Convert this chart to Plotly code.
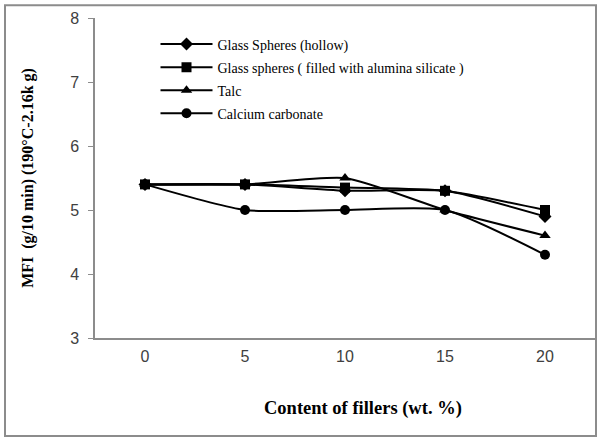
import plotly.graph_objects as go

content = [0, 5, 10, 15, 20]
hollow = [5.4, 5.4, 5.3, 5.3, 4.9]
filled = [5.4, 5.4, 5.35, 5.3, 5.0]
talc = [5.4, 5.4, 5.5, 5.0, 4.6]
caco3 = [5.4, 5.0, 5.0, 5.0, 4.3]

names = ["Glass Spheres (hollow)",
         "Glass spheres ( filled with alumina silicate )",
         "Talc",
         "Calcium carbonate"]
series = [hollow, filled, talc, caco3]
symbols = ["diamond", "square", "triangle-up", "circle"]
sizes = [10, 10, 10, 10]

fig = go.Figure()
for n, s, sym, sz in zip(names, series, symbols, sizes):
    fig.add_trace(go.Scatter(
        x=content, y=s, name="<span style='font-size:14px'>" + n + "</span>",
        mode="lines+markers",
        line=dict(color="black", width=2, shape="spline", smoothing=0.6),
        marker=dict(symbol=sym, size=sz, color="black"),
    ))

fig.update_layout(
    width=597, height=438,
    margin=dict(l=95, r=2, t=18, b=100),
    paper_bgcolor="white", plot_bgcolor="white",
    showlegend=True,
    legend=dict(x=0.121, y=0.97, xanchor="left", yanchor="top",
                bgcolor="rgba(0,0,0,0)",
                font=dict(family="Liberation Serif", size=15.4, color="black"),
                itemwidth=52, tracegroupgap=0),
    xaxis=dict(range=[-2.5, 22.5], tickvals=content, ticktext=[str(c) for c in content],
               showline=True, linecolor="#8c8c8c", linewidth=1.5, ticks="",
               showgrid=False, zeroline=False, ticklabelstandoff=3,
               tickfont=dict(family="Liberation Sans", size=16, color="#404040")),
    yaxis=dict(range=[3, 8], dtick=1, showline=True, linecolor="#8c8c8c", linewidth=1.5,
               ticks="outside", ticklen=5, tickcolor="#8c8c8c",
               showgrid=False, zeroline=False, ticklabelstandoff=6,
               tickfont=dict(family="Liberation Sans", size=16, color="#404040"),
               title=dict(text="<b>MFI  (g/10 min) (190°C-2.16k g)</b>",
                          font=dict(family="Liberation Serif", size=16, color="black"),
                          standoff=33)),
)
fig.add_annotation(text="<b>Content of fillers (wt. %)</b>", xref="paper", yref="paper",
                   x=0.536, y=-0.219, xanchor="center", yanchor="middle", showarrow=False,
                   font=dict(family="Liberation Serif", size=18.5, color="black"))
fig.add_shape(type="rect", xref="paper", yref="paper",
              x0=-0.18, x1=1.002, y0=-0.306, y1=1.04,
              line=dict(color="#8c8c8c", width=2), layer="above")

fig.write_html("out.html", config={"displayModeBar": False},
               post_script="document.body.style.margin='0';")
